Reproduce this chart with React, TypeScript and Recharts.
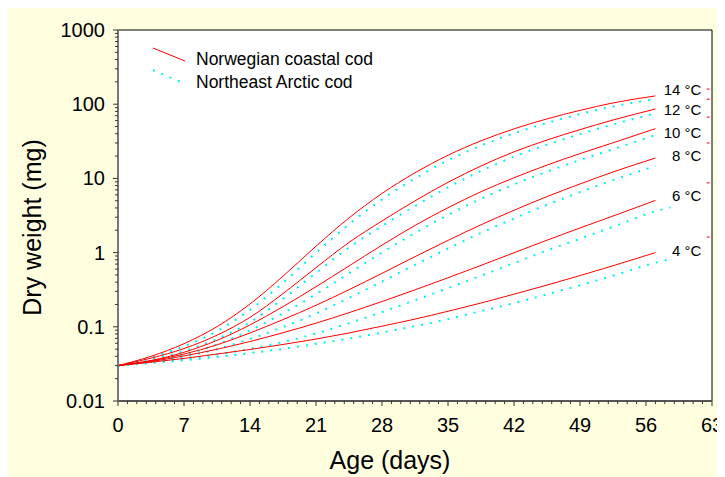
import {
  ComposedChart,
  Line,
  Scatter,
  XAxis,
  YAxis,
  ReferenceArea,
  ReferenceLine,
  Legend,
} from "recharts";

// Sampling days for every growth curve (the Arctic 6 °C and 4 °C curves run a bit further)
const days = [0, 3.5, 7, 10.5, 14, 17.5, 21, 24.5, 28, 31.5, 35, 38.5, 42, 45.5, 49, 52.5, 57];
const tailDay = 58.6;

const temps = ["14 °C", "12 °C", "10 °C", "8 °C", "6 °C", "4 °C"];

// Norwegian coastal cod, dry weight (mg)
const coastal14 = [0.03, 0.04, 0.0592, 0.1005, 0.203, 0.481, 1.22, 2.93, 6.27, 11.9, 20.5, 32.1, 46.5, 63.4, 82.6, 104, 129.4];
const coastal12 = [0.03, 0.0378, 0.0509, 0.0771, 0.134, 0.28, 0.627, 1.37, 2.67, 4.98, 8.85, 14.7, 22.8, 32.9, 45.4, 61.2, 86.1];
const coastal10 = [0.03, 0.0352, 0.0454, 0.0656, 0.106, 0.187, 0.347, 0.661, 1.26, 2.32, 4.03, 6.61, 10.2, 15.1, 21.6, 30.2, 46.8];
const coastal8 = [0.03, 0.0348, 0.0429, 0.0571, 0.0826, 0.125, 0.195, 0.316, 0.525, 0.881, 1.46, 2.37, 3.72, 5.69, 8.41, 12.2, 18.8];
const coastal6 = [0.03, 0.034, 0.0405, 0.0498, 0.0634, 0.0832, 0.112, 0.155, 0.219, 0.315, 0.458, 0.673, 0.995, 1.47, 2.15, 3.11, 5.05];
const coastal4 = [0.03, 0.0333, 0.0375, 0.0429, 0.0495, 0.0578, 0.0684, 0.0826, 0.102, 0.127, 0.162, 0.209, 0.275, 0.365, 0.49, 0.665, 1.0];

// Northeast Arctic cod, dry weight (mg)
const arctic14 = [0.03, 0.0386, 0.0546, 0.0875, 0.169, 0.391, 0.993, 2.41, 5.21, 10.0, 17.5, 27.7, 40.5, 55.8, 73.6, 93.3, 117];
const arctic12 = [0.03, 0.0365, 0.047, 0.0687, 0.115, 0.238, 0.533, 1.17, 2.28, 4.24, 7.57, 12.6, 19.6, 28.5, 39.5, 53.3, 75.3];
const arctic10 = [0.03, 0.034, 0.0419, 0.0578, 0.0895, 0.152, 0.275, 0.525, 1.0, 1.84, 3.22, 5.32, 8.28, 12.3, 17.7, 24.7, 38.4];
const arctic8 = [0.03, 0.0337, 0.0395, 0.0498, 0.0687, 0.0993, 0.151, 0.245, 0.407, 0.684, 1.135, 1.84, 2.88, 4.42, 6.53, 9.48, 14.7];
const arctic6 = [0.03, 0.0329, 0.0369, 0.0424, 0.0504, 0.0624, 0.0813, 0.112, 0.158, 0.228, 0.332, 0.488, 0.721, 1.07, 1.54, 2.23, 3.61, 4.07];
const arctic4 = [0.03, 0.0325, 0.0354, 0.0391, 0.0442, 0.0504, 0.0589, 0.0695, 0.0836, 0.102, 0.127, 0.163, 0.208, 0.274, 0.363, 0.488, 0.731, 0.813];

// little red marks sitting against the right frame
const edgeDay = 62.6;
const edgeWeights = [160, 117, 67, 30, 8.7, 1.62];

const xMajorTicks = [0, 7, 14, 21, 28, 35, 42, 49, 56, 63];
const yMajorTicks = [0.01, 0.1, 1, 10, 100, 1000];

const coastal = [coastal14, coastal12, coastal10, coastal8, coastal6, coastal4];
const arctic = [arctic14, arctic12, arctic10, arctic8, arctic6, arctic4];

// vertical nudge of each temperature label from its curve end
const labelDy = [-6, 0, 3.5, -2.5, -5, -2];

const RED = "#ff0000";
const CYAN = "#00f0f0";
const FONT = '"Liberation Sans", Arial, Helvetica, sans-serif';

const toPoints = (ws: number[]) =>
  ws.map((w, i) => ({ day: i < days.length ? days[i] : tailDay, w }));

const endLabels = coastal.map((ws, k) => ({ day: days[days.length - 1], w: ws[ws.length - 1], k }));
const edgeMarks = edgeWeights.map((w) => ({ day: edgeDay, w }));

const xTicks = Array.from({ length: 64 }, (_, i) => i);
const yTicks = [
  ...yMajorTicks.slice(0, -1).flatMap((base) =>
    [1, 2, 3, 4, 5, 6, 7, 8, 9].map((m) => +(m * base).toPrecision(3))
  ),
  1000,
];

const isMajorY = (v: number) => yMajorTicks.some((t) => Math.abs(t - v) < t * 1e-6);

const XTick = (props: any) => {
  const { x, y, payload } = props;
  const major = xMajorTicks.includes(payload.value);
  return (
    <g>
      <line x1={x} x2={x} y1={y} y2={y + (major ? 5 : 3)} stroke="#333" />
      {major && (
        <text x={x} y={y + 24} textAnchor="middle" dominantBaseline="central" fontSize={20} fill="#000">
          {payload.value}
        </text>
      )}
    </g>
  );
};

const YTick = (props: any) => {
  const { x, y, payload } = props;
  const major = isMajorY(payload.value);
  return (
    <g>
      <line x1={x - (major ? 5 : 3)} x2={x} y1={y} y2={y} stroke="#333" />
      {major && (
        <text x={x - 13} y={y} textAnchor="end" dominantBaseline="central" fontSize={20} fill="#000">
          {String(payload.value)}
        </text>
      )}
    </g>
  );
};

const LegendBox = () => (
  <svg width={260} height={50} style={{ overflow: "visible" }}>
    <line x1={0} y1={2} x2={32} y2={15} stroke={RED} strokeWidth={1} />
    <text x={43} y={13} dominantBaseline="central" fontSize={17.5} fill="#000">
      Norwegian coastal cod
    </text>
    <line x1={0} y1={24} x2={30} y2={37} stroke={CYAN} strokeWidth={2} strokeDasharray="2 7" />
    <text x={43} y={36} dominantBaseline="central" fontSize={17.5} fill="#000">
      Northeast Arctic cod
    </text>
  </svg>
);

export default function App() {
  return (
    <div style={{ width: 725, height: 469, background: "#ffffe0", fontFamily: FONT }}>
      <style>{"html{overflow:hidden}"}</style>
      <ComposedChart width={725} height={469} margin={{ top: 22, right: 21, bottom: 0, left: 0 }}>
        <ReferenceArea x1={0} x2={63} y1={0.01} y2={1000} fill="#ffffff" fillOpacity={1} stroke="none" />
        <XAxis
          type="number"
          dataKey="day"
          domain={[0, 63]}
          ticks={xTicks}
          interval={0}
          allowDataOverflow
          height={76}
          tickSize={0}
          tickMargin={0}
          tick={<XTick />}
          axisLine={{ stroke: "#555", strokeWidth: 2 }}
          label={(p: any) => (
            <text
              x={p.viewBox.x + 272}
              y={p.viewBox.y + 59}
              textAnchor="middle"
              dominantBaseline="central"
              fontSize={25}
              fill="#000"
            >
              Age (days)
            </text>
          )}
        />
        <YAxis
          type="number"
          dataKey="w"
          scale="log"
          domain={[0.01, 1000]}
          ticks={yTicks}
          interval={0}
          allowDataOverflow
          width={110}
          tickSize={0}
          tickMargin={0}
          tick={<YTick />}
          axisLine={{ stroke: "#777", strokeWidth: 2 }}
          label={(p: any) => (
            <text
              transform={`translate(24, ${p.viewBox.y + p.viewBox.height / 2 + 12}) rotate(-90)`}
              textAnchor="middle"
              dominantBaseline="central"
              fontSize={25}
              fill="#000"
            >
              Dry weight (mg)
            </text>
          )}
        />
        <ReferenceLine y={1000} stroke="#000" strokeWidth={1} />
        <ReferenceLine x={63} stroke="#000" strokeWidth={1} />
        <Legend
          layout="horizontal"
          verticalAlign="middle"
          align="center"
          content={<LegendBox />}
          wrapperStyle={{ left: 145, top: 38, width: 260, height: 50 }}
        />
        {arctic.map((ws, k) => (
          <Line
            key={`arctic-${k}`}
            data={toPoints(ws)}
            dataKey="w"
            type="monotone"
            stroke={CYAN}
            strokeWidth={2}
            strokeDasharray="2 7"
            dot={false}
            activeDot={false}
            isAnimationActive={false}
            legendType="none"
          />
        ))}
        {coastal.map((ws, k) => (
          <Line
            key={`coastal-${k}`}
            data={toPoints(ws)}
            dataKey="w"
            type="monotone"
            stroke={RED}
            strokeWidth={1}
            dot={false}
            activeDot={false}
            isAnimationActive={false}
            legendType="none"
          />
        ))}
        <Scatter
          data={edgeMarks}
          dataKey="w"
          isAnimationActive={false}
          legendType="none"
          shape={(p: any) => (
            <line x1={p.cx - 1.5} x2={p.cx + 1.5} y1={p.cy} y2={p.cy} stroke={RED} strokeWidth={1} />
          )}
        />
        <Scatter
          data={endLabels}
          dataKey="w"
          isAnimationActive={false}
          legendType="none"
          shape={(p: any) => (
            <text
              x={p.cx + 46}
              y={p.cy + labelDy[p.payload.k]}
              textAnchor="end"
              dominantBaseline="central"
              fontSize={15}
              fill="#000"
            >
              {temps[p.payload.k]}
            </text>
          )}
        />
      </ComposedChart>
    </div>
  );
}
